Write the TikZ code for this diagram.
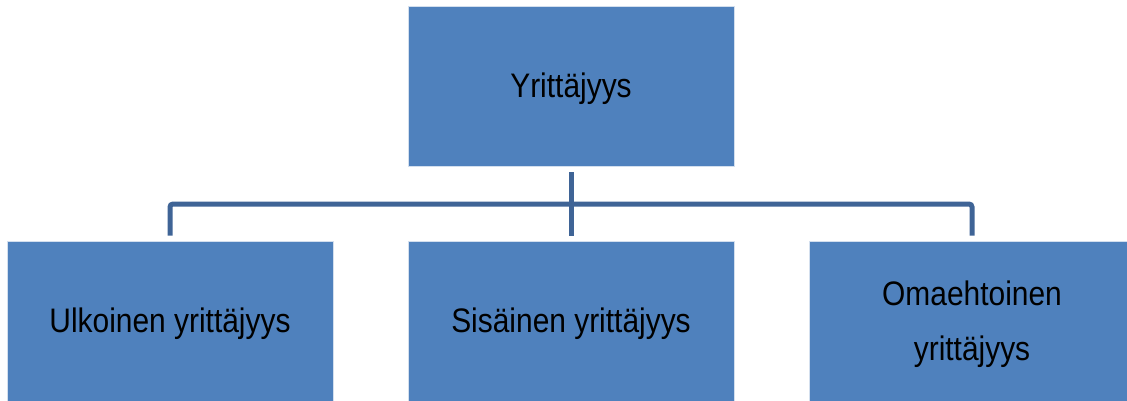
\documentclass[tikz,border=0pt]{standalone}
\usepackage{fontspec}
\setmainfont{Liberation Sans}[FakeStretch=0.88]
\definecolor{boxblue}{RGB}{79,129,189}
\definecolor{linkblue}{RGB}{63,100,150}
\begin{document}
\begin{tikzpicture}[x=1pt,y=-1pt,
  box/.style={rectangle, fill=boxblue, draw=white!75!boxblue, line width=0.8pt,
    minimum width=326pt, minimum height=160pt, inner sep=0pt, align=center,
    font=\fontsize{34}{55}\selectfont, text=black},
  link/.style={draw=linkblue, line width=5pt, rounded corners=3pt}]
\useasboundingbox (0,0) rectangle (1127,400);
\node[box] (top) at (571,86) {};
\node[box] (left) at (170,321) {};
\node[box] (mid) at (571,321) {};
\node[box] (right) at (972,321) {};
\node[font=\fontsize{34}{55}\selectfont, align=center, inner sep=0pt] (ttop) at ([yshift=-3pt]top.center) {Yrittäjyys};
\node[font=\fontsize{34}{55}\selectfont, align=center, inner sep=0pt] (tleft) at ([yshift=-3pt]left.center) {Ulkoinen yrittäjyys};
\node[font=\fontsize{34}{55}\selectfont, align=center, inner sep=0pt] (tmid) at ([yshift=-3pt]mid.center) {Sisäinen yrittäjyys};
\node[font=\fontsize{34}{55}\selectfont, align=center, inner sep=0pt] (tright) at ([yshift=-3pt]right.center) {Omaehtoinen\\yrittäjyys};
\coordinate (hub) at (571,204);
\draw[link] ([yshift=-6pt]top.south) -- ([yshift=5pt]mid.north);
\draw[link] ([yshift=5pt]left.north) |- (hub) -| ([yshift=5pt]right.north);
\end{tikzpicture}
\end{document}
